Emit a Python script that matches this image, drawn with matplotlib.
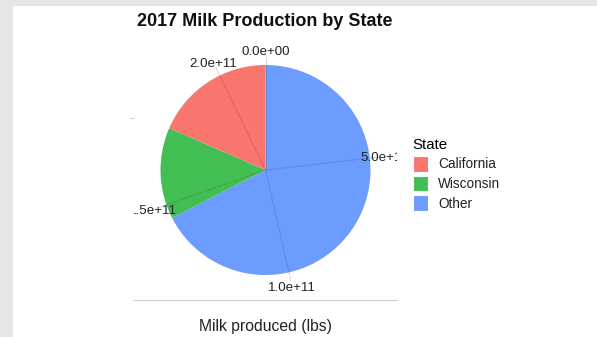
import matplotlib
matplotlib.use("Agg")
import matplotlib.pyplot as plt
from matplotlib.patches import Rectangle, Patch
import numpy as np

plt.rcParams["font.family"] = ["Liberation Sans", "DejaVu Sans"]

# 2017 milk production (lbs)
states = ["California", "Wisconsin", "Other"]
production = [39.798e9, 30.320e9, 145.348e9]
colors = ["#F8766D", "#42BF52", "#6C9CFF"]
breaks = [0, 5e10, 1e11, 1.5e11, 2e11]
break_labels = ["0.0e+00", "5.0e+10", "1.0e+11", "1.5e+11", "2.0e+11"]

W, H = 597, 337
fig = plt.figure(figsize=(W / 100, H / 100), dpi=100, facecolor="#E6E6E6")
fig.patches.append(Rectangle((13 / W, 0), 1 - 13 / W, 1 - 6 / H,
                             transform=fig.transFigure, facecolor="white",
                             edgecolor="none", zorder=-10))

ax = fig.add_axes([134 / W, 37 / H, 263 / W, 260 / H])
ax.set_facecolor("none")

total = sum(production)
# Stack order: first factor level ends up at the top of the stack,
# so the slices run clockwise from 12 o'clock as Other, Wisconsin, California.
order = [2, 1, 0]
ax.pie([production[i] for i in order], colors=[colors[i] for i in order],
       startangle=90, counterclock=False, radius=1.0,
       wedgeprops=dict(linewidth=0))

# radial grid lines and break labels
for b, lab in zip(breaks, break_labels):
    ang = np.deg2rad(90 - b / total * 360)
    ax.plot([0, 1.08 * np.cos(ang)], [0, 1.08 * np.sin(ang)],
            color="#444444", alpha=0.22, lw=0.7, zorder=5)
    ax.text(1.14 * np.cos(ang), 1.14 * np.sin(ang), lab, ha="center",
            va="center_baseline", fontsize=9.6, color="#222222",
            clip_on=True, zorder=6)

ax.set_xlim(-131.5 / 105, 131.5 / 105)
ax.set_ylim(-130 / 105, 130 / 105)
ax.set_aspect("auto")
ax.set_frame_on(True)
for side in ["top", "right", "left"]:
    ax.spines[side].set_visible(False)
ax.spines["bottom"].set_color("#CFCFCF")
ax.spines["bottom"].set_linewidth(0.9)
ax.set_xticks([])
ax.set_yticks([0.5])
ax.set_yticklabels([""])
ax.tick_params(axis="y", length=3, color="#CCCCCC", width=0.8)

ax.set_xlabel("Milk produced (lbs)", fontsize=11.3, color="#222222", labelpad=14)
fig.text(265 / W, 1 - 22 / H, "2017 Milk Production by State", ha="center",
         va="center", fontsize=13, fontweight="bold", color="#111111")

handles = [Patch(facecolor=c, edgecolor="white", linewidth=0.8) for c in colors]
leg = fig.legend(handles, states, title="State", loc="upper left",
                 bbox_to_anchor=(406 / W, 1 - 131 / H), frameon=False,
                 fontsize=9.8, title_fontsize=10.8, borderpad=0,
                 handlelength=1.15, handleheight=1.4, handletextpad=0.7,
                 labelspacing=0.3, alignment="left")
for t in leg.get_texts():
    t.set_color("#222222")

fig.savefig("out.png", dpi=100, facecolor=fig.get_facecolor())
